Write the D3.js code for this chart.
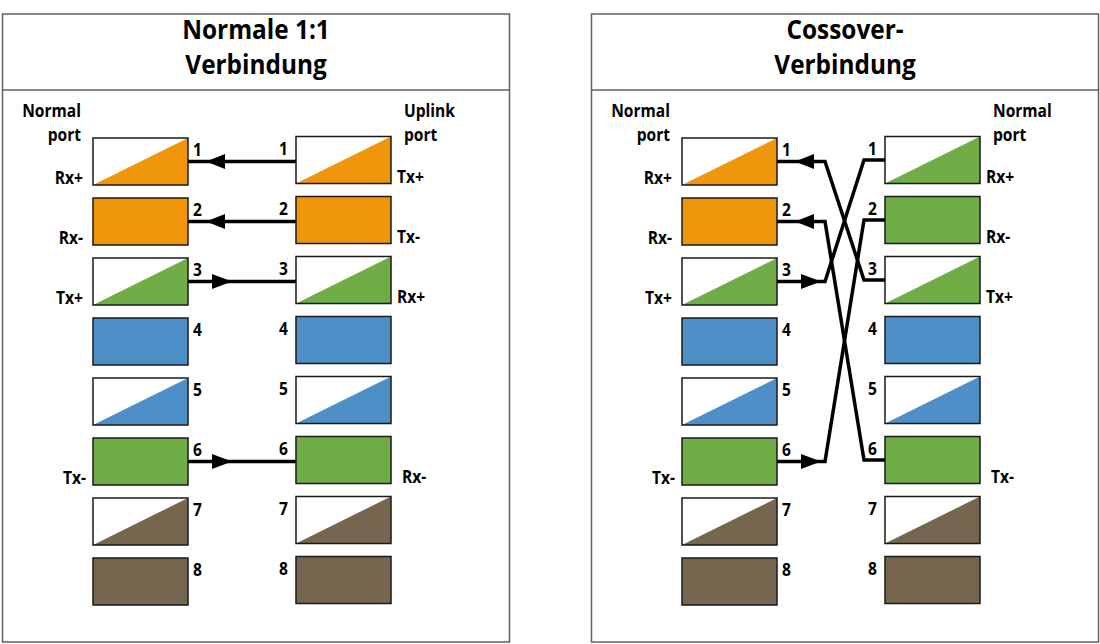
<!DOCTYPE html>
<html>
<head>
<meta charset="utf-8">
<script src="https://cdn.jsdelivr.net/npm/d3@7"></script>
<style>
  body { margin: 0; background: #fff; }
  text { font-family: "Open Sans", sans-serif; font-weight: 700; fill: #000; }
</style>
</head>
<body>
<div id="chart"></div>
<script>
// Data
const pins = [1, 2, 3, 4, 5, 6, 7, 8];
const pairColors = { orange: "#F0960A", green: "#70AD47", blue: "#4F8FC8", brown: "#76654F" };
const normalColors = ["orange", "orange", "green", "blue", "blue", "green", "brown", "brown"];
const crossRightColors = ["green", "green", "green", "blue", "blue", "green", "brown", "brown"];
const striped = [true, false, true, false, true, false, true, false];

const titles1 = ["Normale 1:1", "Verbindung"];
const titles2 = ["Cossover-", "Verbindung"];
const portLeft1 = ["Normal", "port"];
const portRight1 = ["Uplink", "port"];
const portLeft2 = ["Normal", "port"];
const portRight2 = ["Normal", "port"];

const signalPins = [1, 2, 3, 6];
const normalSignals = ["Rx+", "Rx-", "Tx+", "Tx-"];
const uplinkSignals = ["Tx+", "Tx-", "Rx+", "Rx-"];

// wires: left pin, right pin, arrow direction ("in" = into left port)
const wires1 = [
  { left: 1, right: 1, dir: "in" },
  { left: 2, right: 2, dir: "in" },
  { left: 3, right: 3, dir: "out" },
  { left: 6, right: 6, dir: "out" }
];
const wires2 = [
  { left: 1, right: 3, dir: "in" },
  { left: 2, right: 6, dir: "in" },
  { left: 3, right: 1, dir: "out" },
  { left: 6, right: 2, dir: "out" }
];

const panels = [
  { x: 2, titles: titles1, portLeft: portLeft1, portRight: portRight1,
    leftColors: normalColors, rightColors: normalColors,
    leftSignals: normalSignals, rightSignals: uplinkSignals, wires: wires1, cross: false },
  { x: 591, titles: titles2, portLeft: portLeft2, portRight: portRight2,
    leftColors: normalColors, rightColors: crossRightColors,
    leftSignals: normalSignals, rightSignals: normalSignals, wires: wires2, cross: true }
];

// Layout
const W = 1100, H = 644;
const panelW = 507, panelTop = 14, panelBottom = 642, headerBottom = 90;
const boxW = 95;
const leftColX = 91, rightColX = 294;
const titleSqueeze = 0.92, labelSqueeze = 0.89;

const svg = d3.select("#chart")
  .append("svg")
  .attr("width", W)
  .attr("height", H);

const y = d3.scaleBand()
  .domain(pins)
  .range([138, 605])
  .paddingInner(13 / 60);

// narrow text: place with translate, squeeze horizontally
function place(x, yy, s) {
  return `translate(${x},${yy}) scale(${s},1)`;
}

function drawPanel(p) {
  const g = svg.append("g").attr("transform", `translate(${p.x},0)`);

  g.append("rect")
    .attr("x", 0.5).attr("y", panelTop)
    .attr("width", panelW).attr("height", panelBottom - panelTop)
    .attr("fill", "none").attr("stroke", "#606060").attr("stroke-width", 1.5);
  g.append("line")
    .attr("x1", 0.5).attr("x2", panelW + 0.5)
    .attr("y1", headerBottom).attr("y2", headerBottom)
    .attr("stroke", "#606060").attr("stroke-width", 1.5);

  g.selectAll("text.title")
    .data(p.titles)
    .join("text")
    .attr("class", "title")
    .attr("transform", (d, i) => place(panelW / 2 + 0.5, 39 + i * 35, titleSqueeze))
    .attr("text-anchor", "middle")
    .attr("font-size", "26.5px")
    .text(d => d);

  // port headers
  g.selectAll("text.portL")
    .data(p.portLeft)
    .join("text")
    .attr("class", "portL")
    .attr("transform", (d, i) => place(leftColX - 12, 117 + i * 24, labelSqueeze))
    .attr("text-anchor", "end")
    .attr("font-size", "17.5px")
    .text(d => d);
  g.selectAll("text.portR")
    .data(p.portRight)
    .join("text")
    .attr("class", "portR")
    .attr("transform", (d, i) => place(rightColX + boxW + 13, 117 + i * 24, labelSqueeze))
    .attr("text-anchor", "start")
    .attr("font-size", "17.5px")
    .text(d => d);

  drawColumn(g, leftColX, 0, p.leftColors, "left");
  drawColumn(g, rightColX, -1.5, p.rightColors, "right");

  // signal labels
  signalPins.forEach((pin, i) => {
    const extra = pin === 6 ? 5 : 0;
    g.append("text")
      .attr("transform", place(leftColX - 10 + (pin === 6 ? 3 : 0), y(pin) + y.bandwidth() - 1, labelSqueeze))
      .attr("text-anchor", "end")
      .attr("font-size", "17.5px")
      .text(p.leftSignals[i]);
    g.append("text")
      .attr("transform", place(rightColX + boxW + 6 + extra, y(pin) + y.bandwidth() - 2.5, labelSqueeze))
      .attr("text-anchor", "start")
      .attr("font-size", "17.5px")
      .text(p.rightSignals[i]);
  });

  // wires
  const line = d3.line();
  const xL = leftColX + boxW, xR = rightColX;
  p.wires.forEach(w => {
    const yL = y(w.left) + y.bandwidth() / 2;
    const yR = y(w.right) + y.bandwidth() / 2 - 1.5;
    const pts = p.cross
      ? [[xL, yL], [xL + 48, yL], [xR - 21, yR], [xR, yR]]
      : [[xL, yL], [xR, yL]];
    g.append("path")
      .attr("d", line(pts))
      .attr("fill", "none")
      .attr("stroke", "#000")
      .attr("stroke-width", 3.5)
      .attr("stroke-linejoin", "miter");

    const arrow = w.dir === "in"
      ? [[xL + 18, yL], [xL + 37, yL - 7.5], [xL + 37, yL + 7.5]]
      : [[xL + 44, yL], [xL + 24, yL - 7.5], [xL + 24, yL + 7.5]];
    g.append("path")
      .attr("d", line(arrow) + "Z")
      .attr("fill", "#000");
  });
}

function drawColumn(g, x0, dy, colors, side) {
  const col = g.append("g").attr("transform", `translate(${x0},${dy})`);
  const cells = col.selectAll("g.pin")
    .data(pins)
    .join("g")
    .attr("class", "pin")
    .attr("transform", d => `translate(0,${y(d)})`);

  const h = y.bandwidth();
  cells.append("rect")
    .attr("width", boxW).attr("height", h)
    .attr("fill", (d, i) => striped[i] ? "#fff" : pairColors[colors[i]]);

  cells.filter((d, i) => striped[i])
    .append("path")
    .attr("d", `M0,${h}L${boxW},0L${boxW},${h}Z`)
    .attr("fill", d => pairColors[colors[d - 1]]);

  cells.append("rect")
    .attr("width", boxW).attr("height", h)
    .attr("fill", "none")
    .attr("stroke", "#1a1a1a")
    .attr("stroke-width", 1.5);

  cells.append("text")
    .attr("transform", place(side === "left" ? boxW + 5 : -8, 18, labelSqueeze))
    .attr("text-anchor", side === "left" ? "start" : "end")
    .attr("font-size", "17.5px")
    .text(d => d);
}

panels.forEach(drawPanel);
</script>
</body>
</html>
